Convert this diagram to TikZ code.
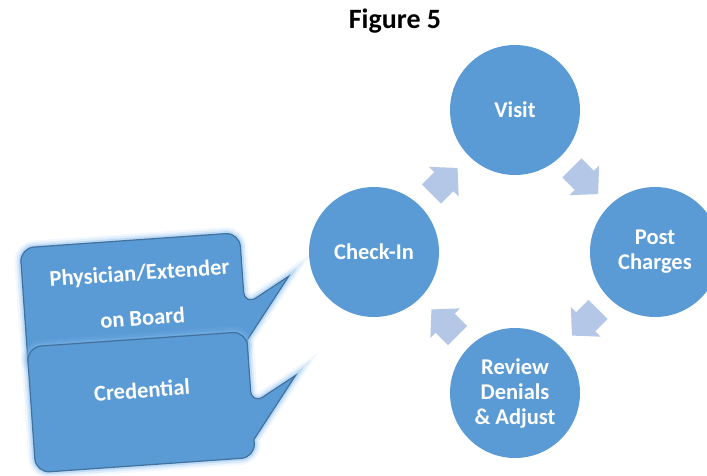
\documentclass[tikz,border=0pt]{standalone}
\usepackage{fontspec}
\setmainfont{Carlito}
\usetikzlibrary{positioning,calc}

\definecolor{stageblue}{HTML}{5B9BD5}
\definecolor{arrowblue}{HTML}{B4C7E7}
\definecolor{edgeblue}{HTML}{41719C}
\definecolor{glowblue}{HTML}{7FB8EE}

% outline of one speech bubble, in its own (unrotated) frame
\def\bubblepath{(0,63) [rounded corners=14pt] -- (0,0) -- (220,0) -- (220,73) [sharp corners] -- (266,47) -- (220,108) [rounded corners=14pt] -- (220,126) -- (0,126) -- cycle}

\tikzset{
  stage/.style={circle, fill=stageblue, minimum size=130pt, inner sep=0pt,
    text=white, align=center, font=\bfseries\fontsize{22.5}{25}\selectfont},
  blockarrow/.style={fill=arrowblue},
  bubbletext/.style={text=white, align=center, rotate=4,
    font=\bfseries\fontsize{22.5}{25}\selectfont},
  bubble/.pic={
    \foreach \w/\o in {13/0.10, 9/0.18, 5/0.35}
      \draw[glowblue, line width=\w pt, opacity=\o] \bubblepath;
    \draw[edgeblue, fill=stageblue, line width=1.2pt] \bubblepath;
  }
}

\begin{document}
\begin{tikzpicture}[x=1pt,y=-1pt]

\path[use as bounding box] (0,0) rectangle (707,475);
\clip (0,0) rectangle (707,475);

\node (title) [anchor=base, font=\bfseries\fontsize{28}{32}\selectfont] at (395,28) {Figure 5};

% the cycle
\node (visit)   [stage] at (515,110) {Visit};
\node (checkin) [stage] at (374,252) {Check-In};
\node (post)    [stage] at (655,252) {Post\\Charges};
\node (review)  [stage] at (515,393) {Review\\Denials\\\& Adjust};

\foreach \a/\b/\ang in {checkin/visit/45, visit/post/-45, post/review/-135, review/checkin/135}
    \fill[blockarrow, shift={($(\a)!0.5!(\b)$)}, rotate=\ang]
        (-18.5,-13.5) -- (-1,-13.5) -- (-1,-21) -- (18.5,0) -- (-1,21) -- (-1,13.5) -- (-18.5,13.5) -- cycle;

% the two callouts
\pic[rotate=4] at (20,248) {bubble};
\node (onboard) [bubbletext] at (141,295) {Physician/Extender\\[20pt]on Board};

\pic[rotate=4] at (27,347) {bubble};
\node (credential) [bubbletext] at (142,390) {Credential};

\end{tikzpicture}
\end{document}
